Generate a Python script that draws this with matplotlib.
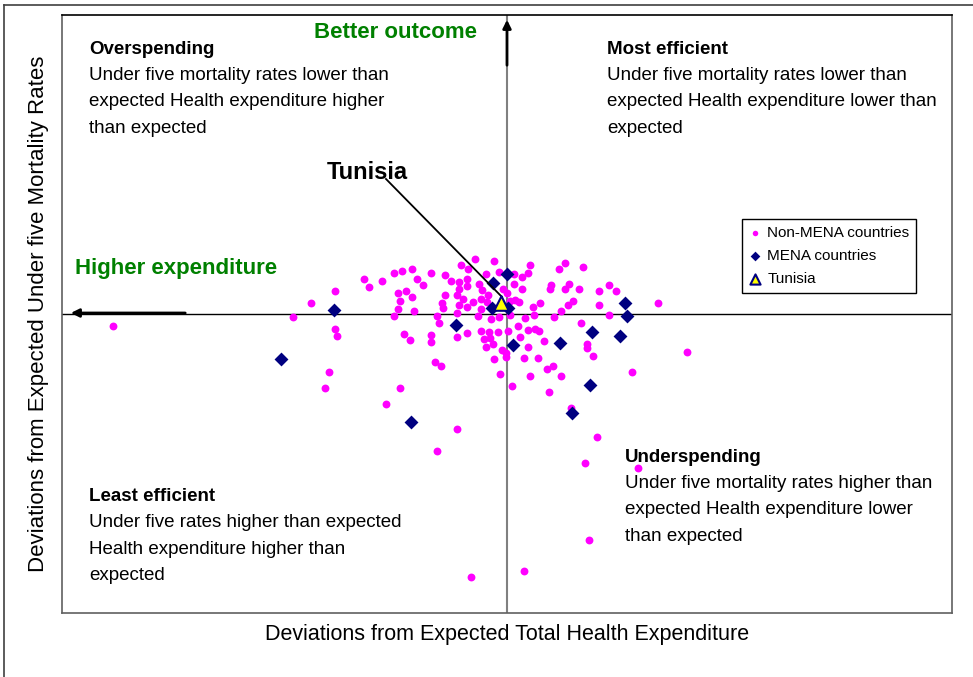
import matplotlib.pyplot as plt

plt.rcParams['font.family'] = ['Liberation Sans', 'DejaVu Sans']

# deviations (arbitrary units)
# non-MENA countries
other_x = [-394, -214, -196, -172, -172, -170, -178, -182, -143, -138, -125, -113, -105, -95,
           -90, -84, -76, -109, -101, -95, -107, -109, -93, -113, -103, -97, -76, -76, -70,
           -68, -72, -66, -107, -121, -50, -70, -62, -56, -46, -32, -13, -21, -8, -39, -64,
           -62, -50, -48, -48, -40, -40, -44, -48, -40, -50, -65, -34, -28, -25, -26, -26,
           -29, -19, -20, -16, -8, 3, -4, 0, 7, 15, 7, 15, 21, 23, 8, 12, 3, 26, 33, 27, 18,
           -26, -18, -9, 1, -23, -17, -21, -14, -5, -1, -1, 11, 13, 21, 28, 32, 21, 17, 31,
           -13, -7, 5, 23, 37, 40, 46, 42, -40, -50,
           58, 52, 76, 44, 43, 58, 62, 72, 102, 109, 92, 151, 54, 47, 61, 66, 92, 102, 74,
           80, 80, 86, 180, 54, 125, 64, 90, 78, 131, 82, 17, -36]
other_y = [-12, -3, 11, 23, -15, -22, -58, -74, 35, 27, 33, 41, 43, 45,
           35, 29, 41, 21, 23, 17, 13, 5, 3, -2, -20, -26, -21, -28, -2,
           -9, -48, -52, -74, -90, -115, -137, 39, 33, 49, 55, 53, 40, 42, 45, 6,
           19, 19, 25, 32, 35, 28, 15, 9, 7, 1, 11, 12, 30, 24, 15, 5,
           -2, 19, 12, -5, -3, -1, 25, 21, 30, 25, 40, 37, 41, 49, 14, 12, 13, 7, 11, -1, -4,
           -17, -18, -18, -17, -25, -24, -33, -30, -36, -43, -39, -12, -23, -16, -15, -17, -33, -44, -44,
           -45, -60, -72, -62, -27, -55, -52, -78, -19, -23,
           51, 45, 47, 29, 25, 25, 30, 25, 29, 23, 23, 11, 3, -3, 9, 13, 9, -1, -9,
           -30, -34, -42, -38, -62, -58, -94, -123, -149, -154, -226, -257, -263]

# MENA countries
mena_x = [-173, -226, -51, -96, -14, 0, -15, 1, 6, 53, 85, 113, 118, 120, 83, 65]
mena_y = [4, -45, -11, -108, 31, 40, 6, 6, -31, -29, -18, -22, 11, -2, -71, -99]

# Tunisia
tun_x = [-6]
tun_y = [11]

fig = plt.figure(figsize=(9.73, 6.77), dpi=100)
ax = fig.add_axes([62 / 973, 1 - 613 / 677, 890 / 973, 598 / 677])
ax.set_xlim(-445, 445)
ax.set_ylim(-299, 299)
ax.set_xticks([])
ax.set_yticks([])

ax.axvline(0, color='#808080', lw=1.5, zorder=1)
ax.axhline(0, color='black', lw=1, zorder=1)

ax.scatter(other_x, other_y, s=32, color='#FF00FF', lw=0, zorder=3, label='Non-MENA countries')
ax.scatter(mena_x, mena_y, s=50, marker='D', color='#000080', lw=0, zorder=4, label='MENA countries')
ax.scatter(tun_x, tun_y, s=110, marker='^', color='#FFFF00', edgecolor='#000080', lw=1.5,
           zorder=6, label='Tunisia')

# Tunisia label + leader line
ax.plot([-121, -5], [135, 17], color='black', lw=1.3, zorder=5)
ax.text(-180, 142, 'Tunisia', fontsize=17, fontweight='bold', va='center', ha='left')

# direction arrows
ax.annotate('', xy=(0, 297), xytext=(0, 246),
            arrowprops=dict(arrowstyle='-|>', color='black', lw=2, mutation_scale=12))
ax.annotate('', xy=(-439, 1), xytext=(-319, 1),
            arrowprops=dict(arrowstyle='-|>', color='black', lw=2, mutation_scale=12))
ax.text(-112, 282, 'Better outcome', color='#008000', fontsize=16, fontweight='bold',
        ha='center', va='center')
ax.text(-432, 46, 'Higher expenditure', color='#008000', fontsize=16, fontweight='bold',
        ha='left', va='center')


def quad(x, y, title, lines):
    ax.text(x, y, title, fontsize=13.5, fontweight='bold', ha='left', va='center')
    for i, ln in enumerate(lines):
        ax.text(x, y - 26.5 * (i + 1), ln, fontsize=13.5, ha='left', va='center')


quad(-418, 265, 'Overspending', ['Under five mortality rates lower than',
                                 'expected Health expenditure higher', 'than expected'])
quad(100, 265, 'Most efficient', ['Under five mortality rates lower than',
                                  'expected Health expenditure lower than', 'expected'])
quad(118, -143, 'Underspending', ['Under five mortality rates higher than',
                                  'expected Health expenditure lower', 'than expected'])
quad(-418, -182, 'Least efficient', ['Under five rates higher than expected',
                                     'Health expenditure higher than', 'expected'])

ax.set_xlabel('Deviations from Expected Total Health Expenditure', fontsize=15.5, labelpad=8)
ax.set_ylabel('Deviations from Expected Under five Mortality Rates', fontsize=16, labelpad=9)

for side in ['left', 'right', 'bottom']:
    ax.spines[side].set_color('#606060')
    ax.spines[side].set_linewidth(1.2)
ax.spines['top'].set_color('black')
ax.spines['top'].set_linewidth(1.2)

leg = ax.legend(loc='upper left', bbox_to_anchor=(0.764, 0.659), fontsize=11,
                frameon=True, fancybox=False, edgecolor='black', framealpha=1,
                handlelength=0.8, handletextpad=0.4, labelspacing=0.6,
                borderpad=0.45, borderaxespad=0, scatterpoints=1, markerscale=0.7)
leg.get_frame().set_linewidth(1)

# outer frame (left and top edges)
fig.add_artist(plt.Line2D([4 / 973, 4 / 973], [0, 1 - 5 / 677], transform=fig.transFigure,
                          color='#404040', lw=1.2))
fig.add_artist(plt.Line2D([4 / 973, 1], [1 - 5 / 677, 1 - 5 / 677], transform=fig.transFigure,
                          color='#404040', lw=1.2))

fig.savefig('out.png', dpi=100)
